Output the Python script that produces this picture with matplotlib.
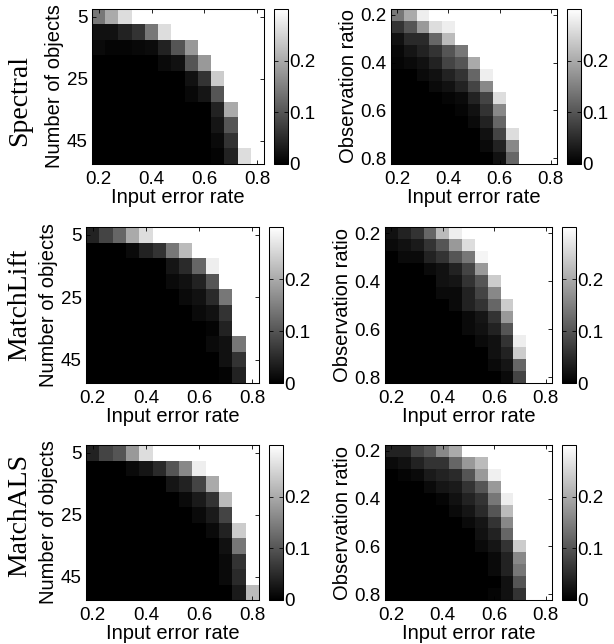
import numpy as np
import matplotlib.pyplot as plt

plt.rcParams['font.family'] = ['Liberation Sans', 'DejaVu Sans']

# --------------
# Data (mean error; W = above the colour scale, drawn white)
# --------------
W = np.nan

error_rate = [0.2, 0.25, 0.3, 0.35, 0.4, 0.45, 0.5, 0.55, 0.6, 0.65, 0.7, 0.75, 0.8]
num_objects = [5, 10, 15, 20, 25, 30, 35, 40, 45, 50]
obs_ratio = [0.2, 0.25, 0.3, 0.35, 0.4, 0.45, 0.5, 0.55, 0.6, 0.65, 0.7, 0.75, 0.8]

methods = ["Spectral", "MatchLift", "MatchALS"]

spectral_obj = [
    [0.14, 0.20, 0.26, W, W, W, W, W, W, W, W, W, W],
    [0.02, 0.02, 0.04, 0.06, 0.14, 0.26, W, W, W, W, W, W, W],
    [0.012, 0.006, 0.006, 0.01, 0.014, 0.04, 0.10, 0.18, W, W, W, W, W],
    [0, 0, 0, 0, 0, 0.012, 0.02, 0.10, 0.18, W, W, W, W],
    [0, 0, 0, 0, 0, 0, 0, 0.02, 0.06, 0.24, W, W, W],
    [0, 0, 0, 0, 0, 0, 0, 0.01, 0.025, 0.10, W, W, W],
    [0, 0, 0, 0, 0, 0, 0, 0, 0, 0.04, 0.20, W, W],
    [0, 0, 0, 0, 0, 0, 0, 0, 0, 0.025, 0.10, W, W],
    [0, 0, 0, 0, 0, 0, 0, 0, 0, 0.012, 0.06, W, W],
    [0, 0, 0, 0, 0, 0, 0, 0, 0, 0.005, 0.04, 0.26, W],
]
spectral_obs = [
    [0.14, 0.20, 0.28, W, W, W, W, W, W, W, W, W, W],
    [0.06, 0.10, 0.18, 0.26, 0.28, W, W, W, W, W, W, W, W],
    [0.02, 0.05, 0.05, 0.12, 0.22, W, W, W, W, W, W, W, W],
    [0.01, 0.025, 0.04, 0.06, 0.10, 0.14, W, W, W, W, W, W, W],
    [0.006, 0.012, 0.02, 0.04, 0.08, 0.10, 0.20, W, W, W, W, W, W],
    [0, 0, 0.012, 0.02, 0.04, 0.06, 0.12, 0.28, W, W, W, W, W],
    [0, 0, 0, 0.012, 0.02, 0.04, 0.08, 0.16, W, W, W, W, W],
    [0, 0, 0, 0, 0.006, 0.012, 0.04, 0.08, 0.26, W, W, W, W],
    [0, 0, 0, 0, 0, 0.006, 0.02, 0.06, 0.16, W, W, W, W],
    [0, 0, 0, 0, 0, 0, 0.012, 0.04, 0.12, W, W, W, W],
    [0, 0, 0, 0, 0, 0, 0, 0.02, 0.08, 0.26, W, W, W],
    [0, 0, 0, 0, 0, 0, 0, 0.012, 0.04, 0.16, W, W, W],
    [0, 0, 0, 0, 0, 0, 0, 0, 0.02, 0.12, W, W, W],
]
matchlift_obj = [
    [0.04, 0.08, 0.12, 0.20, 0.26, W, W, W, W, W, W, W, W],
    [0, 0, 0, 0.012, 0.04, 0.06, 0.14, 0.22, W, W, W, W, W],
    [0, 0, 0, 0, 0, 0, 0.025, 0.05, 0.12, 0.28, W, W, W],
    [0, 0, 0, 0, 0, 0, 0.012, 0.02, 0.04, 0.10, W, W, W],
    [0, 0, 0, 0, 0, 0, 0, 0.012, 0.02, 0.05, 0.14, W, W],
    [0, 0, 0, 0, 0, 0, 0, 0, 0.012, 0.02, 0.06, W, W],
    [0, 0, 0, 0, 0, 0, 0, 0, 0, 0.005, 0.04, W, W],
    [0, 0, 0, 0, 0, 0, 0, 0, 0, 0.012, 0.02, 0.14, W],
    [0, 0, 0, 0, 0, 0, 0, 0, 0, 0, 0.02, 0.06, W],
    [0, 0, 0, 0, 0, 0, 0, 0, 0, 0, 0.005, 0.04, W],
]
matchlift_obs = [
    [0.02, 0.04, 0.06, 0.12, 0.22, 0.28, W, W, W, W, W, W, W],
    [0.012, 0.02, 0.031, 0.06, 0.10, 0.18, 0.26, W, W, W, W, W, W],
    [0, 0.012, 0.012, 0.04, 0.06, 0.10, 0.14, 0.288, W, W, W, W, W],
    [0, 0, 0, 0.012, 0.02, 0.04, 0.08, 0.18, W, W, W, W, W],
    [0, 0, 0, 0, 0.02, 0.025, 0.06, 0.10, 0.24, W, W, W, W],
    [0, 0, 0, 0, 0.012, 0.012, 0.04, 0.08, 0.16, W, W, W, W],
    [0, 0, 0, 0, 0, 0.012, 0.04, 0.06, 0.12, 0.24, W, W, W],
    [0, 0, 0, 0, 0, 0, 0.012, 0.025, 0.06, 0.18, W, W, W],
    [0, 0, 0, 0, 0, 0, 0.012, 0.02, 0.04, 0.10, W, W, W],
    [0, 0, 0, 0, 0, 0, 0, 0.012, 0.02, 0.06, 0.28, W, W],
    [0, 0, 0, 0, 0, 0, 0, 0, 0.02, 0.04, 0.24, W, W],
    [0, 0, 0, 0, 0, 0, 0, 0, 0.012, 0.025, 0.12, W, W],
    [0, 0, 0, 0, 0, 0, 0, 0, 0, 0.012, 0.08, W, W],
]
matchals_obj = [
    [0.04, 0.08, 0.10, 0.18, 0.26, W, W, W, W, W, W, W, W],
    [0, 0, 0, 0.012, 0.025, 0.05, 0.10, 0.16, 0.28, W, W, W, W],
    [0, 0, 0, 0, 0, 0, 0.025, 0.04, 0.08, 0.20, W, W, W],
    [0, 0, 0, 0, 0, 0, 0, 0.012, 0.031, 0.06, 0.22, W, W],
    [0, 0, 0, 0, 0, 0, 0, 0, 0.012, 0.031, 0.08, W, W],
    [0, 0, 0, 0, 0, 0, 0, 0, 0, 0.012, 0.04, 0.24, W],
    [0, 0, 0, 0, 0, 0, 0, 0, 0, 0, 0.02, 0.14, W],
    [0, 0, 0, 0, 0, 0, 0, 0, 0, 0, 0.012, 0.06, W],
    [0, 0, 0, 0, 0, 0, 0, 0, 0, 0, 0.012, 0.05, W],
    [0, 0, 0, 0, 0, 0, 0, 0, 0, 0, 0, 0.031, 0.22],
]
matchals_obs = [
    [0.04, 0.04, 0.08, 0.10, 0.16, 0.20, W, W, W, W, W, W, W],
    [0.012, 0.02, 0.04, 0.06, 0.06, 0.12, 0.18, 0.22, W, W, W, W, W],
    [0, 0.006, 0.012, 0.031, 0.04, 0.05, 0.10, 0.18, 0.282, W, W, W, W],
    [0, 0, 0, 0.012, 0.025, 0.031, 0.06, 0.10, 0.18, W, W, W, W],
    [0, 0, 0, 0, 0.006, 0.02, 0.04, 0.06, 0.14, 0.28, W, W, W],
    [0, 0, 0, 0, 0, 0.012, 0.025, 0.05, 0.10, 0.22, W, W, W],
    [0, 0, 0, 0, 0, 0, 0.012, 0.025, 0.06, 0.16, W, W, W],
    [0, 0, 0, 0, 0, 0, 0, 0.02, 0.04, 0.12, W, W, W],
    [0, 0, 0, 0, 0, 0, 0, 0.012, 0.025, 0.06, 0.24, W, W],
    [0, 0, 0, 0, 0, 0, 0, 0, 0.012, 0.04, 0.16, W, W],
    [0, 0, 0, 0, 0, 0, 0, 0, 0.012, 0.04, 0.14, W, W],
    [0, 0, 0, 0, 0, 0, 0, 0, 0, 0.02, 0.10, W, W],
    [0, 0, 0, 0, 0, 0, 0, 0, 0.006, 0.02, 0.06, W, W],
]

obj_maps = [spectral_obj, matchlift_obj, matchals_obj]
obs_maps = [spectral_obs, matchlift_obs, matchals_obs]

x_ticks = [0.2, 0.4, 0.6, 0.8]
obj_ticks = [5, 25, 45]
obs_ticks = [0.2, 0.4, 0.6, 0.8]
cbar_ticks = [0, 0.1, 0.2]
cbar_labels = ["0", "0.1", "0.2"]
vmax = 0.3

# --------------
# Layout (pixel boxes of the original figure)
# --------------
FW, FH = 614, 644
def box(x0, x1, y0, y1):
    return [x0 / FW, 1 - y1 / FH, (x1 - x0) / FW, (y1 - y0) / FH]

rows_y = [(9, 164), (227, 383), (445, 600)]
left_x = [(92, 264), (86, 259), (86, 259)]
right_x = [(391, 557), (385, 552), (385, 552)]
name_y = [100, 305, 515]

cmap = plt.get_cmap('gray').copy()
cmap.set_bad('white')

TICK_FS = 13.5
LABEL_FS = 14.5


def style_axes(ax):
    ax.tick_params(direction='in', length=3, width=0.6, top=True, right=True,
                   labelsize=TICK_FS)
    ax.tick_params(axis='x', pad=5)
    ax.tick_params(axis='y', pad=3)
    for s in ax.spines.values():
        s.set_linewidth(0.75)


def heatmap(fig, axbox, xs, ys, z, yticks, ylabel):
    ax = fig.add_axes(axbox)
    zz = np.ma.masked_invalid(np.array(z, dtype=float))
    mesh = ax.pcolormesh(xs, ys, zz, shading='nearest', cmap=cmap, vmin=0, vmax=vmax)
    dx = xs[1] - xs[0]
    dy = ys[1] - ys[0]
    ax.set_xlim(xs[0] - dx / 2, xs[-1] + dx / 2)
    ax.set_ylim(ys[-1] + dy / 2, ys[0] - dy / 2)
    ax.set_xticks(x_ticks)
    ax.set_xticklabels([f"{t:g}" for t in x_ticks])
    ax.set_yticks(yticks)
    ax.set_yticklabels([f"{t:g}" for t in yticks])
    ax.set_xlabel("Input error rate", fontsize=LABEL_FS, labelpad=0)
    ax.set_ylabel(ylabel, fontsize=LABEL_FS, labelpad=2)
    style_axes(ax)

    # colorbar just to the right of the map
    cx0 = axbox[0] + axbox[2] + 10 / FW
    cax = fig.add_axes([cx0, axbox[1], 14 / FW, axbox[3]])
    cb = fig.colorbar(mesh, cax=cax, ticks=cbar_ticks)
    cb.set_ticklabels(cbar_labels)
    cb.outline.set_linewidth(0.75)
    cax.tick_params(direction='in', length=3, width=0.6, left=True, right=True,
                    labelsize=TICK_FS, pad=1)
    return ax


fig = plt.figure(figsize=(6.14, 6.44), dpi=100)

for i, name in enumerate(methods):
    y0, y1 = rows_y[i]
    heatmap(fig, box(*left_x[i], y0, y1), error_rate, num_objects, obj_maps[i],
            obj_ticks, "Number of objects")
    heatmap(fig, box(*right_x[i], y0, y1), error_rate, obs_ratio, obs_maps[i],
            obs_ticks, "Observation ratio")
    fig.text(20 / FW, 1 - name_y[i] / FH, name, rotation=90, ha='center', va='center',
             fontsize=20, family='Liberation Serif')

fig.savefig("out.png", dpi=100)
